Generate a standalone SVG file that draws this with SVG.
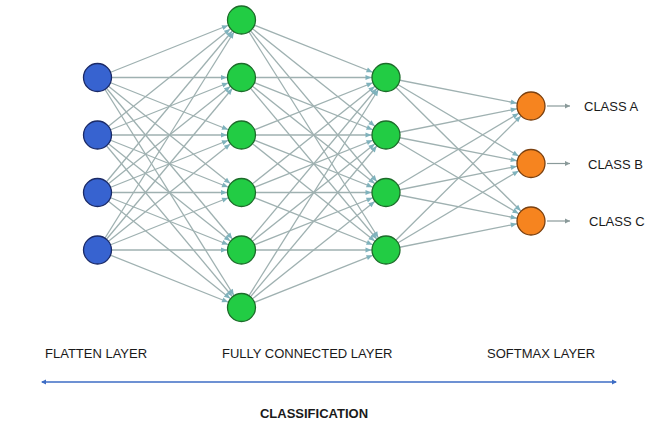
<svg xmlns="http://www.w3.org/2000/svg" width="649" height="426" viewBox="0 0 649 426">
<defs>
<style>
.conn line{stroke:#9fb1b1;stroke-width:1.3;marker-end:url(#ah)}
.out line{stroke:#8a9a9a;stroke-width:1.2;marker-end:url(#ah2)}
.blue{fill:#3763d0;stroke:#1b2a66;stroke-width:1.3}
.green{fill:#22cc44;stroke:#1d6b2a;stroke-width:1.3}
.orange{fill:#f6841f;stroke:#7a4010;stroke-width:1.3}
text{font-family:"Liberation Sans",Arial,sans-serif;font-size:13px;fill:#1a1a1a}
.bold{font-weight:bold}
</style>
<marker id="ah" markerUnits="userSpaceOnUse" markerWidth="20" markerHeight="10" refX="14.5" refY="0" orient="auto" overflow="visible">
<path d="M0,0 L-6,-2.6 L-6,2.6 Z" fill="#7fb2bc"/>
</marker>
<marker id="ah2" markerUnits="userSpaceOnUse" markerWidth="10" markerHeight="10" refX="0" refY="0" orient="auto" overflow="visible">
<path d="M0,0 L-5,-2.5 L-5,2.5 Z" fill="#8a9a9a"/>
</marker>
<marker id="bh" markerUnits="userSpaceOnUse" markerWidth="10" markerHeight="10" refX="0" refY="0" orient="auto-start-reverse" overflow="visible">
<path d="M1,0 L-4,-2.5 L-4,2.5 Z" fill="#3d6cc4"/>
</marker>
</defs>
<rect width="649" height="426" fill="#ffffff"/>
<g id="connectors">
<g class="conn">
<line x1="97.5" y1="77.5" x2="241.5" y2="20"/>
<line x1="97.5" y1="77.5" x2="241.5" y2="77.5"/>
<line x1="97.5" y1="77.5" x2="241.5" y2="135"/>
<line x1="97.5" y1="77.5" x2="241.5" y2="192.5"/>
<line x1="97.5" y1="77.5" x2="241.5" y2="250"/>
<line x1="97.5" y1="77.5" x2="241.5" y2="307.5"/>
<line x1="97.5" y1="135" x2="241.5" y2="20"/>
<line x1="97.5" y1="135" x2="241.5" y2="77.5"/>
<line x1="97.5" y1="135" x2="241.5" y2="135"/>
<line x1="97.5" y1="135" x2="241.5" y2="192.5"/>
<line x1="97.5" y1="135" x2="241.5" y2="250"/>
<line x1="97.5" y1="135" x2="241.5" y2="307.5"/>
<line x1="97.5" y1="192.5" x2="241.5" y2="20"/>
<line x1="97.5" y1="192.5" x2="241.5" y2="77.5"/>
<line x1="97.5" y1="192.5" x2="241.5" y2="135"/>
<line x1="97.5" y1="192.5" x2="241.5" y2="192.5"/>
<line x1="97.5" y1="192.5" x2="241.5" y2="250"/>
<line x1="97.5" y1="192.5" x2="241.5" y2="307.5"/>
<line x1="97.5" y1="250" x2="241.5" y2="20"/>
<line x1="97.5" y1="250" x2="241.5" y2="77.5"/>
<line x1="97.5" y1="250" x2="241.5" y2="135"/>
<line x1="97.5" y1="250" x2="241.5" y2="192.5"/>
<line x1="97.5" y1="250" x2="241.5" y2="250"/>
<line x1="97.5" y1="250" x2="241.5" y2="307.5"/>

<line x1="241.5" y1="20" x2="386" y2="77.5"/>
<line x1="241.5" y1="20" x2="386" y2="135"/>
<line x1="241.5" y1="20" x2="386" y2="192.5"/>
<line x1="241.5" y1="20" x2="386" y2="250"/>
<line x1="241.5" y1="77.5" x2="386" y2="77.5"/>
<line x1="241.5" y1="77.5" x2="386" y2="135"/>
<line x1="241.5" y1="77.5" x2="386" y2="192.5"/>
<line x1="241.5" y1="77.5" x2="386" y2="250"/>
<line x1="241.5" y1="135" x2="386" y2="77.5"/>
<line x1="241.5" y1="135" x2="386" y2="135"/>
<line x1="241.5" y1="135" x2="386" y2="192.5"/>
<line x1="241.5" y1="135" x2="386" y2="250"/>
<line x1="241.5" y1="192.5" x2="386" y2="77.5"/>
<line x1="241.5" y1="192.5" x2="386" y2="135"/>
<line x1="241.5" y1="192.5" x2="386" y2="192.5"/>
<line x1="241.5" y1="192.5" x2="386" y2="250"/>
<line x1="241.5" y1="250" x2="386" y2="77.5"/>
<line x1="241.5" y1="250" x2="386" y2="135"/>
<line x1="241.5" y1="250" x2="386" y2="192.5"/>
<line x1="241.5" y1="250" x2="386" y2="250"/>
<line x1="241.5" y1="307.5" x2="386" y2="77.5"/>
<line x1="241.5" y1="307.5" x2="386" y2="135"/>
<line x1="241.5" y1="307.5" x2="386" y2="192.5"/>
<line x1="241.5" y1="307.5" x2="386" y2="250"/>

<line x1="386" y1="77.5" x2="531" y2="106"/>
<line x1="386" y1="77.5" x2="531" y2="163.5"/>
<line x1="386" y1="77.5" x2="531" y2="221"/>
<line x1="386" y1="135" x2="531" y2="106"/>
<line x1="386" y1="135" x2="531" y2="163.5"/>
<line x1="386" y1="135" x2="531" y2="221"/>
<line x1="386" y1="192.5" x2="531" y2="106"/>
<line x1="386" y1="192.5" x2="531" y2="163.5"/>
<line x1="386" y1="192.5" x2="531" y2="221"/>
<line x1="386" y1="250" x2="531" y2="106"/>
<line x1="386" y1="250" x2="531" y2="163.5"/>
<line x1="386" y1="250" x2="531" y2="221"/>
</g>
<g class="out">
<line x1="547" y1="106" x2="570" y2="106"/>
<line x1="547" y1="163.5" x2="570" y2="163.5"/>
<line x1="547" y1="221" x2="570" y2="221"/>
</g>
<line x1="42" y1="382" x2="616" y2="382" stroke="#3d6cc4" stroke-width="1.6" marker-start="url(#bh)" marker-end="url(#bh)"/>
</g>
<g id="flatten">
<circle class="blue" cx="97.5" cy="77.5" r="14"/>
<circle class="blue" cx="97.5" cy="135" r="14"/>
<circle class="blue" cx="97.5" cy="192.5" r="14"/>
<circle class="blue" cx="97.5" cy="250" r="14"/>
</g>
<g id="fc1">
<circle class="green" cx="241.5" cy="20" r="14"/>
<circle class="green" cx="241.5" cy="77.5" r="14"/>
<circle class="green" cx="241.5" cy="135" r="14"/>
<circle class="green" cx="241.5" cy="192.5" r="14"/>
<circle class="green" cx="241.5" cy="250" r="14"/>
<circle class="green" cx="241.5" cy="307.5" r="14"/>
</g>
<g id="fc2">
<circle class="green" cx="386" cy="77.5" r="14"/>
<circle class="green" cx="386" cy="135" r="14"/>
<circle class="green" cx="386" cy="192.5" r="14"/>
<circle class="green" cx="386" cy="250" r="14"/>
</g>
<g id="softmax">
<circle class="orange" cx="531" cy="106" r="14"/>
<circle class="orange" cx="531" cy="163.5" r="14"/>
<circle class="orange" cx="531" cy="221" r="14"/>
</g>
<g id="labels">
<text x="584" y="111">CLASS A</text>
<text x="588" y="168.5">CLASS B</text>
<text x="589" y="226">CLASS C</text>
<text x="45" y="358">FLATTEN LAYER</text>
<text x="222" y="358">FULLY CONNECTED LAYER</text>
<text x="487" y="358">SOFTMAX LAYER</text>
<text class="bold" x="314" y="418" text-anchor="middle">CLASSIFICATION</text>
</g>
</svg>
